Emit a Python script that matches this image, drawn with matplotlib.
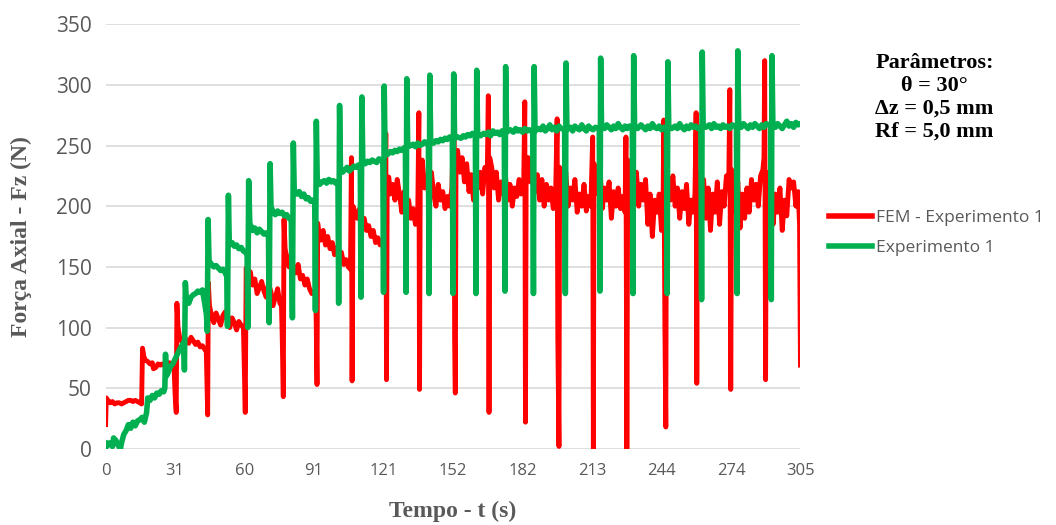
import matplotlib.pyplot as plt
from matplotlib.lines import Line2D

# FEM (red) - time in s, axial force in N
red_t = [0, 0.3, 1, 2, 3, 4, 5, 6, 7, 8, 9, 10, 11, 12, 13, 14, 15, 15.8,
         16.2, 16.8, 17.5, 18.5, 19.5, 20.5, 21, 22, 23, 24, 25, 26, 27, 28, 29, 30,
         30.5, 31, 31.3, 31.8, 32.5, 33.5, 34.5, 35.5, 36.5, 37.5, 38.5, 39.5, 40.5, 41.5, 42.5, 43.5, 44.2,
         44.8, 45.1, 45.6, 46.5, 47.5, 48.5, 49.5, 50.5, 51.5, 52.5, 53.5, 54.5, 55.5, 56.5, 57.5, 58.5, 59.5, 60.5,
         61.3, 61.7, 62.5, 63.5, 64.5, 65.5, 66.5, 67.5, 68.5, 69.5, 70.5, 71.5, 72.5, 73.5, 74.5, 75.5, 76.5, 77.2,
         77.5, 78, 78.3, 78.8, 79.5, 80.5, 81.5, 82.5, 83.5, 84.5, 85.5, 86.5, 87.5, 88.5, 89.5, 90.5, 91.5, 92.3,
         92.8, 93.1, 93.6, 94.5, 95.5, 96.5, 97.5, 98.5, 99.5, 100.5, 101.5, 102.5, 103.5, 104.5, 105.5, 106.5, 107.5,
         107.9, 108.2, 108.6, 109.5, 110.5, 111.5, 112.5, 113.5, 114.5, 115.5, 116.5, 117.5, 118.5, 119.5, 120.5, 121.5, 122.5,
         123, 123.3, 123.6, 124.3, 125, 126, 127, 128, 129, 130, 131, 132, 133, 134, 135, 136, 137,
         137.5, 137.8, 138.1, 139, 140, 141, 142, 143, 144, 145, 146, 147, 148, 149, 150, 151, 152,
         153, 153.2, 153.5, 153.8, 154.5, 155.5, 156.5, 157.5, 158.5, 159.5, 160.5, 161.5, 162.5, 163.5, 164.5, 165.5, 166.5, 167.5,
         168, 168.3, 168.6, 169.5, 170.5, 171.5, 172.5, 173.5, 174.5, 175.5, 176.5, 177.5, 178.5, 179.5, 180.5, 181.5, 182.5, 183.5,
         184, 184.3, 184.6, 185.5, 186.5, 187.5, 188.5, 189.5, 190.5, 191.5, 192.5, 193.5, 194.5, 195.5, 196.5, 197.5,
         198.2, 198.5, 199, 199.3, 200, 201, 202, 203, 204, 205, 206, 207, 208, 209, 210, 211, 212, 213,
         213.8, 214.1, 214.4, 215, 216, 217, 218, 219, 220, 221, 222, 223, 224, 225, 226, 227, 228,
         228.4, 228.8, 229.2, 230, 231, 232, 233, 234, 235, 236, 237, 238, 239, 240, 241, 242, 243, 244, 244.7,
         245, 245.5, 245.9, 246.2, 247, 248, 249, 250, 251, 252, 253, 254, 255, 256, 257, 258, 258.7,
         259.2, 259.5, 259.8, 260.5, 261.5, 262.5, 263.5, 264.5, 265.5, 266.5, 267.5, 268.5, 269.5, 270.5, 271.5, 272.5, 273.5,
         274, 274.4, 274.8, 275.5, 276.5, 277.5, 278.5, 279.5, 280.5, 281.5, 282.5, 283.5, 284.5, 285.5, 286.5, 287.5, 288.5, 289,
         289.3, 289.7, 290, 291, 292, 293, 294, 295, 296, 297, 298, 299, 300, 301, 302, 303, 304, 304.6, 305]
red_f = [20, 42, 40, 38, 39, 37, 38, 38, 37, 38, 39, 40, 40, 39, 40, 39, 38, 37,
         83, 76, 73, 72, 70, 71, 66, 67, 70, 69, 70, 68, 70, 71, 68, 70,
         45, 30, 120, 100, 92, 88, 86, 90, 87, 92, 89, 86, 88, 84, 85, 82, 80,
         28, 137, 118, 110, 104, 112, 107, 102, 110, 113, 105, 100, 108, 104, 98, 105, 102, 100,
         30, 149, 140, 146, 135, 140, 128, 133, 138, 130, 125, 136, 130, 118, 125, 132, 120, 118,
         95, 43, 189, 165, 158, 150, 160, 148, 145, 152, 140, 143, 135, 140, 132, 128, 130, 125,
         53, 186, 178, 172, 180, 168, 175, 165, 170, 160, 166, 158, 162, 152, 156, 150, 148,
         240, 56, 200, 195, 190, 198, 185, 190, 180, 184, 175, 180, 170, 174, 168, 172, 166,
         260, 57, 215, 224, 210, 218, 205, 222, 210, 195, 212, 200, 205, 190, 198, 185, 192,
         277, 49, 220, 238, 215, 225, 205, 228, 210, 200, 218, 205, 212, 198, 208, 200, 215,
         287, 90, 46, 230, 246, 228, 240, 220, 235, 212, 226, 205, 222, 215, 228, 210, 232, 222,
         291, 30, 240, 232, 215, 228, 205, 220, 210, 225, 205, 218, 200, 215, 208, 222, 210, 215,
         286, 22, 225, 240, 220, 232, 212, 226, 205, 222, 200, 218, 205, 215, 198, 208,
         272, 90, 2, 232, 220, 210, 228, 200, 215, 205, 222, 195, 210, 200, 218, 196, 208, 200,
         257, 0, 235, 225, 210, 232, 198, 215, 205, 220, 190, 212, 200, 215, 198, 208, 195,
         257, 0, 238, 225, 235, 210, 228, 200, 218, 205, 222, 185, 210, 175, 205, 195, 210, 180, 200,
         271, 100, 18, 232, 220, 205, 225, 200, 215, 190, 212, 198, 218, 185, 205, 195, 210,
         277, 54, 228, 215, 200, 222, 190, 215, 180, 210, 195, 220, 185, 212, 200, 225, 215,
         296, 49, 230, 215, 195, 220, 182, 210, 190, 215, 195, 222, 205, 218, 200, 225, 230, 240,
         320, 57, 228, 205, 220, 185, 210, 195, 215, 180, 205, 192, 222, 215, 220, 200, 212, 185, 69]

# Experiment (green) - time in s, axial force in N
green_t = [0, 0.5, 1, 2, 3, 3.5, 4.5, 5.5, 6.5, 7, 8, 9, 10, 11, 12, 13, 14, 15, 16, 17, 18,
           18.5, 19.5, 20.5, 21.5, 22.5, 23.5, 24.5, 25.5, 26, 26.3, 26.7, 27.5, 28.5, 29.5, 30.5, 31.5, 32.5, 33.5, 34.3,
           34.6, 35, 35.5, 36.5, 37.5, 38.5, 39.5, 40.5, 41.5, 42.5, 43.5, 44.3,
           44.6, 45, 45.4, 46.5, 47.5, 48.5, 49.5, 50.5, 51.5, 52.5, 53.2,
           53.5, 53.9, 54.3, 55.5, 56.5, 57.5, 58.5, 59.5, 60.5, 61.5, 62.1,
           62.4, 62.8, 63.3, 64.5, 65.5, 66.5, 67.5, 68.5, 69.5, 70.5, 71.5,
           71.8, 72.2, 72.6, 73.5, 74.5, 75.5, 76.5, 77.5, 78.5, 79.5, 80.5, 81.5,
           82, 82.4, 82.8, 84, 85, 86, 87, 88, 89, 90, 91, 91.8,
           92.1, 92.5, 92.9, 94, 95, 96, 97, 98, 99, 100, 101, 102,
           102.3, 102.7, 103.1, 104, 105, 106, 107, 108, 109, 110, 111, 111.8,
           112.1, 112.5, 112.9, 114, 115, 116, 117, 118, 119, 120, 121, 121.7,
           122, 122.3, 122.7, 124, 125, 126, 127, 128, 129, 130, 131, 131.6,
           131.9, 132.2, 132.6, 134, 135, 136, 137, 138, 139, 140, 141, 141.7,
           142, 142.3, 142.7, 144, 145, 146, 147, 148, 149, 150, 151, 152.2,
           152.5, 152.8, 153.2, 154.5, 156, 157, 158, 159, 160, 161, 162.3,
           162.6, 162.9, 163.3, 164.5, 166, 167, 168, 169, 170, 171, 172, 173, 174, 175,
           175.3, 175.6, 176, 177.5, 179, 180, 181, 182, 183, 184, 185, 186, 187.5,
           187.8, 188.1, 188.5, 190, 191, 192, 193, 194, 195, 196, 197, 198, 199, 200, 201.5,
           201.8, 202.1, 202.5, 204, 205, 206, 207, 208, 209, 210, 211, 212, 213, 214, 215, 216.7,
           217, 217.3, 217.7, 219, 220, 221, 222, 223, 224, 225, 226, 227, 228, 229, 230, 231.2,
           231.5, 231.8, 232.2, 233.5, 235, 236, 237, 238, 239, 240, 241, 242, 243, 244, 245, 246.2,
           246.5, 246.8, 247.2, 248.5, 250, 251, 252, 253, 254, 255, 256, 257, 258, 259, 260, 261.3,
           261.6, 261.9, 262.3, 263.5, 265, 266, 267, 268, 269, 270, 271, 272, 273, 274, 275, 276.9,
           277.2, 277.5, 277.9, 279, 280, 281, 282, 283, 284, 285, 286, 287, 288, 289, 290, 291.9,
           292.2, 292.5, 292.9, 294, 295, 296, 297, 298, 299, 300, 301, 302, 303, 304, 305]
green_f = [0, 5, 3, 5, 2, 9, 7, 3, 0, 5, 12, 15, 20, 17, 22, 19, 23, 24, 26, 22, 30,
           42, 40, 44, 42, 46, 45, 48, 47, 50, 78, 60, 63, 68, 70, 74, 78, 82, 85, 88,
           65, 137, 122, 120, 125, 127, 128, 130, 129, 131, 120, 110,
           97, 189, 155, 152, 150, 151, 149, 147, 148, 145, 142,
           101, 209, 168, 170, 167, 168, 165, 166, 163, 162, 160,
           100, 221, 186, 180, 182, 178, 181, 179, 177, 178, 175,
           104, 235, 200, 195, 193, 196, 194, 195, 192, 193, 190, 189,
           108, 252, 213, 210, 212, 208, 210, 206, 207, 204, 205, 203,
           114, 270, 222, 218, 220, 221, 219, 222, 220, 221, 219, 220,
           120, 283, 230, 228, 230, 232, 229, 231, 233, 232, 234, 232,
           125, 290, 236, 235, 237, 236, 238, 237, 236, 239, 238, 237,
           129, 299, 242, 243, 245, 244, 246, 245, 247, 246, 248, 247,
           129, 305, 249, 250, 251, 249, 252, 250, 251, 253, 252, 250,
           128, 308, 253, 252, 254, 253, 255, 254, 256, 255, 257, 255,
           128, 309, 256, 257, 256, 258, 257, 259, 258, 260, 258,
           128, 312, 259, 258, 260, 259, 261, 258, 262, 260, 261, 259, 262, 260,
           130, 315, 261, 263, 261, 264, 262, 263, 261, 264, 262, 263, 261,
           128, 315, 262, 264, 263, 266, 262, 264, 267, 263, 265, 262, 266, 264, 263,
           128, 318, 263, 265, 262, 266, 264, 263, 267, 264, 262, 266, 264, 263, 265, 264,
           130, 322, 265, 264, 267, 265, 263, 266, 264, 268, 265, 263, 266, 264, 266, 265,
           128, 324, 265, 264, 267, 265, 263, 266, 264, 268, 265, 264, 266, 263, 265, 264,
           128, 319, 265, 264, 266, 264, 268, 265, 263, 266, 264, 267, 265, 266, 264, 265,
           123, 327, 266, 265, 267, 264, 268, 265, 266, 264, 267, 265, 266, 264, 267, 265,
           128, 328, 266, 265, 268, 266, 264, 267, 265, 268, 266, 264, 267, 265, 268, 266,
           123, 324, 266, 265, 268, 266, 264, 267, 270, 266, 268, 265, 269, 267, 268]

tick_pos = [0, 30.5, 61, 91.5, 122, 152.5, 183, 213.5, 244, 274.5, 305]
tick_lbl = ['0', '31', '60', '91', '121', '152', '182', '213', '244', '274', '305']

RED = '#FF0000'
GREEN = '#00B050'
GREY = '#595959'

fig = plt.figure(figsize=(10.56, 5.25), dpi=100)
ax = fig.add_axes([0.100, 0.145, 0.658, 0.809])

ax.plot(red_t, red_f, color=RED, lw=3.5, solid_joinstyle='round', zorder=3)
ax.plot(green_t, green_f, color=GREEN, lw=4.0, solid_joinstyle='round', zorder=4)

ax.set_xlim(0, 305)
ax.set_ylim(0, 350)
ax.set_yticks(range(0, 351, 50))
ax.set_xticks(tick_pos)
ax.set_xticklabels(tick_lbl)
ax.grid(axis='y', color='#D9D9D9', lw=1.2, zorder=0)
ax.set_axisbelow(True)
for s in ax.spines.values():
    s.set_visible(False)
ax.tick_params(length=0, colors=GREY)
ax.tick_params(axis='y', labelsize=15, pad=10)
ax.tick_params(axis='x', labelsize=12, pad=10)
for lbl in ax.get_xticklabels() + ax.get_yticklabels():
    lbl.set_fontfamily('Open Sans')

ax.set_xlabel('Tempo - t (s)', fontsize=17, fontweight='bold', family='Liberation Serif',
              color=GREY, labelpad=16)
ax.set_ylabel('Força Axial - Fz (N)', fontsize=17, fontweight='bold', family='Liberation Serif',
              color=GREY, labelpad=17)

fig.text(0.885, 0.815, 'Parâmetros:\nθ = 30°\nΔz = 0,5 mm\nRf = 5,0 mm', ha='center', va='center',
         fontsize=16, fontweight='bold', family='Liberation Serif', linespacing=1.2)

handles = [Line2D([], [], color=RED, lw=4), Line2D([], [], color=GREEN, lw=4)]
fig.legend(handles, ['FEM - Experimento 1', 'Experimento 1'], loc='upper left',
           bbox_to_anchor=(0.770, 0.63), frameon=False, handlelength=2.5, handletextpad=0.2,
           labelspacing=0.8, prop={'family': 'Open Sans', 'size': 12.5}, labelcolor=GREY)

fig.savefig('out.png', dpi=100)
